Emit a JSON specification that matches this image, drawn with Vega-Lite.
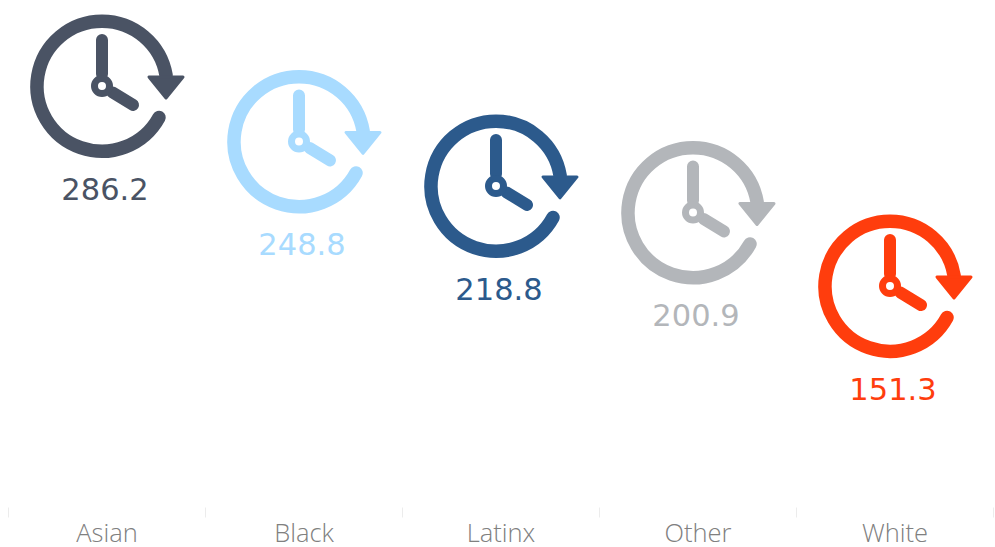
{"$schema":"https://vega.github.io/schema/vega-lite/v6.json","width":985,"height":507,"padding":{"left":8,"top":0,"right":2,"bottom":40},"autosize":{"type":"none"},"background":"white","view":{"stroke":null},"data":{"values":[{"group":"Asian","minutes":286.2},{"group":"Black","minutes":248.8},{"group":"Latinx","minutes":218.8},{"group":"Other","minutes":200.9},{"group":"White","minutes":151.3}]},"encoding":{"x":{"field":"group","type":"nominal","title":null,"scale":{"type":"band","paddingInner":0,"paddingOuter":0},"axis":{"domain":false,"grid":false,"labelAngle":0,"labelFont":"Open Sans","labelFontSize":25.5,"labelColor":"#808080","labelFontWeight":300,"labelPadding":4,"tickBand":"extent","tickColor":"#ececec","tickSize":10,"tickWidth":1}},"y":{"field":"minutes","type":"quantitative","title":null,"scale":{"domain":[1.6,343.5],"nice":false,"zero":false},"axis":null},"color":{"field":"group","type":"nominal","legend":null,"scale":{"domain":["Asian","Black","Latinx","Other","White"],"range":["#4a5364","#a8dbff","#2c5a8c","#b3b6ba","#ff3d0d"]}},"stroke":{"field":"group","type":"nominal","legend":null,"scale":{"domain":["Asian","Black","Latinx","Other","White"],"range":["#4a5364","#a8dbff","#2c5a8c","#b3b6ba","#ff3d0d"]}}},"layer":[{"mark":{"type":"point","filled":false,"fill":"transparent","size":40000,"opacity":1,"strokeWidth":13.5,"strokeCap":"round","xOffset":-4.5,"yOffset":1,"shape":"M0.57 0.315A0.65 0.65 0 1 1 0.641 -0.105"}},{"mark":{"type":"point","filled":false,"fill":"transparent","size":40000,"opacity":1,"strokeWidth":12,"strokeCap":"round","xOffset":-4.5,"yOffset":1,"shape":"M0 -0.46L0 -0.12M0.105 0.065L0.31 0.19"}},{"mark":{"type":"point","filled":false,"fill":"transparent","size":40000,"opacity":1,"strokeWidth":7,"xOffset":-4.5,"yOffset":1,"shape":"M0.075 0A0.075 0.075 0 1 1 -0.075 0A0.075 0.075 0 1 1 0.075 0Z"}},{"mark":{"type":"point","filled":true,"size":40000,"opacity":1,"strokeWidth":3,"strokeJoin":"round","xOffset":-4.5,"yOffset":1,"shape":"M0.47 -0.09L0.81 -0.09L0.64 0.12Z"}},{"mark":{"type":"text","font":"DejaVu Sans","fontSize":30.5,"dy":106,"xOffset":-1.5,"opacity":1,"strokeWidth":0},"encoding":{"text":{"field":"minutes","type":"quantitative","format":".1f"},"stroke":{"value":null}}}]}
